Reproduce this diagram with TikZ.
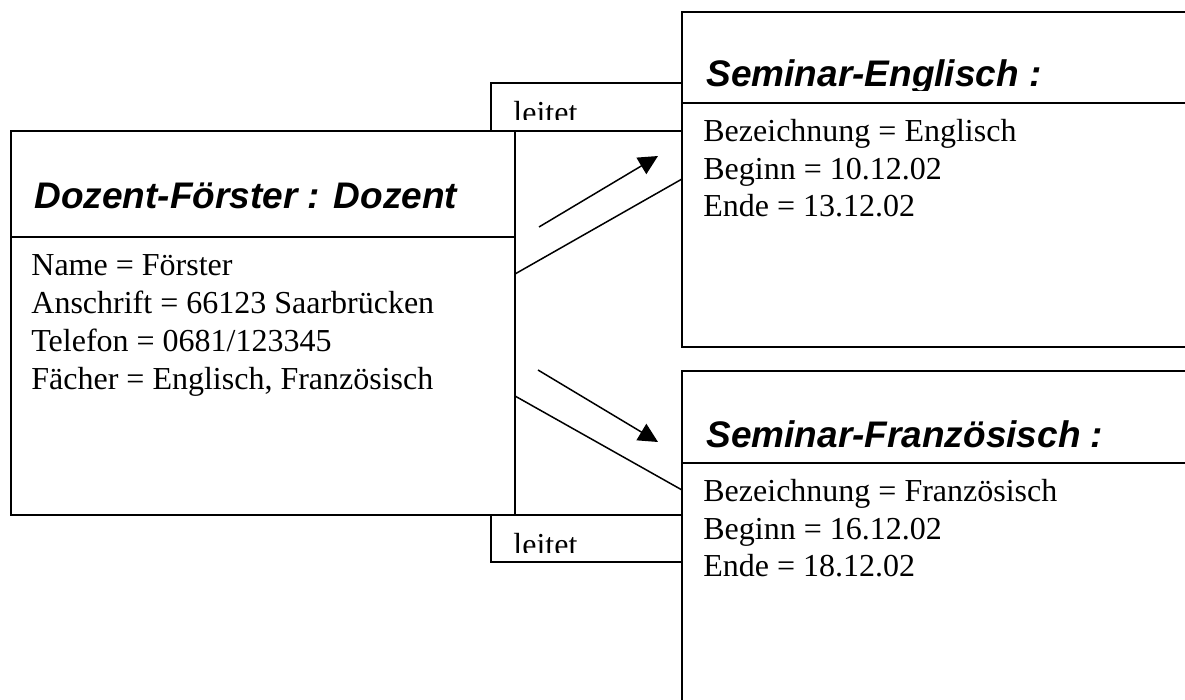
\documentclass[tikz,border=0pt]{standalone}
\usepackage{fontspec}
\setmainfont{Liberation Serif}
\setsansfont{Liberation Sans}
\usetikzlibrary{arrows.meta}

\tikzset{
	objekt/.style={draw, line width=1pt, inner sep=0pt, outer sep=0pt, anchor=north west},
	kopf/.style={font=\sffamily\bfseries\itshape\fontsize{18.5}{22}\selectfont, anchor=base west, inner sep=0pt},
	attr/.style={font=\fontsize{16}{19}\selectfont, anchor=base west, inner sep=0pt},
	verbindung/.style={line width=0.75pt},
	richtung/.style={line width=0.75pt, -{Triangle[length=9.7pt,width=9.5pt]}}
}

\begin{document}
\begin{tikzpicture}[x=0.5pt,y=-0.5pt]
		\useasboundingbox (0,0) rectangle (1185,700);
		\clip (0,0) rectangle (1185,700);
		% Objekte
		\node[objekt, minimum width=252pt, minimum height=192pt] (dozent) at (11,131) {};
		\node[objekt, minimum width=95.5pt, minimum height=24pt] (leitetA) at (491,83) {};
		\node[objekt, minimum width=95.5pt, minimum height=23.5pt] (leitetB) at (491,515) {};
		\node[objekt, minimum width=300pt, minimum height=167.5pt] (englisch) at (682,12) {};
		\node[objekt, minimum width=300pt, minimum height=200pt] (franz) at (682,371) {};
		\draw[line width=1pt] ([yshift=-53pt]dozent.north west) -- ([yshift=-53pt]dozent.north east);
		\draw[line width=1pt] ([yshift=-45.5pt]englisch.north west) -- ([yshift=-45.5pt]englisch.north east);
		\draw[line width=1pt] ([yshift=-46pt]franz.north west) -- ([yshift=-46pt]franz.north east);
		% Objektnamen
		\node[kopf] (dozentKopf) at (34,209) {Dozent-Förster : Dozent};
		\begin{scope}
			\clip (682,12) rectangle (1185,91);
			\node[kopf] (englischKopf) at (706,87) {Seminar-Englisch :};
		\end{scope}
		\node[kopf] (franzKopf) at (706,448) {Seminar-Französisch :};
		% Attribute
		\foreach \zeile [count=\i from 0] in {Name = Förster, Anschrift = 66123 Saarbrücken, Telefon = 0681/123345, {Fächer = Englisch, Französisch}}
			\node[attr] (dozentAttr\i) at (31,{276+37.8*\i}) {\zeile};
		\foreach \zeile [count=\i from 0] in {Bezeichnung = Englisch, Beginn = 10.12.02, Ende = 13.12.02}
			\node[attr] (englischAttr\i) at (703,{142+37.2*\i}) {\zeile};
		\foreach \zeile [count=\i from 0] in {Bezeichnung = Französisch, Beginn = 16.12.02, Ende = 18.12.02}
			\node[attr] (franzAttr\i) at (703,{502+37.2*\i}) {\zeile};
		% Links mit Rollennamen
		\begin{scope}
			\clip (491,83) rectangle (682,120);
			\node[attr] (leitetAText) at (513,124) {leitet};
		\end{scope}
		\begin{scope}
			\clip (491,515) rectangle (682,553);
			\node[attr] (leitetBText) at (513,555) {leitet};
		\end{scope}
		\coordinate (dA) at ([yshift=-71.5pt]dozent.north east);
		\coordinate (eA) at ([yshift=-83.5pt]englisch.north west);
		\draw[verbindung] (dA) -- (eA);
		\coordinate (dB) at ([yshift=-132.5pt]dozent.north east);
		\coordinate (fB) at ([yshift=-59.5pt]franz.north west);
		\draw[verbindung] (dB) -- (fB);
		\coordinate (pfeilA1) at (539,227);
		\coordinate (pfeilA2) at (658,156);
		\draw[richtung] (pfeilA1) -- (pfeilA2);
		\coordinate (pfeilB1) at (538,370);
		\coordinate (pfeilB2) at (658,442);
		\draw[richtung] (pfeilB1) -- (pfeilB2);
	\end{tikzpicture}
\end{document}
